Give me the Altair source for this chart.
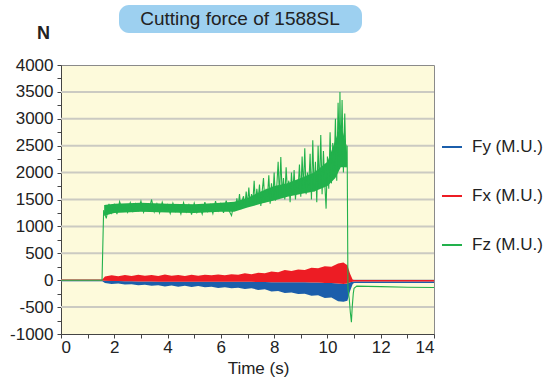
import altair as alt
import pandas as pd

# ---- data ----
series_names = ["Fy (M.U.)", "Fx (M.U.)", "Fz (M.U.)"]
series_colors = ["#1b5eab", "#ed1c24", "#22b14c"]

fx_t = [0, 1.55, 1.65, 1.9, 2.15, 2.4, 2.65, 2.9, 3.15, 3.4, 3.65, 3.9, 4.15, 4.4, 4.65, 4.9, 5.15,
        5.4, 5.65, 5.9, 6.15, 6.4, 6.65, 6.9, 7.15, 7.4, 7.65, 7.9, 8.15, 8.4, 8.65, 8.9, 9.15,
        9.4, 9.65, 9.9, 10.15, 10.4, 10.6, 10.75, 10.85, 10.95, 11.0, 12, 13, 14]
fx_hi = [15, 15, 70, 90, 75, 95, 80, 100, 85, 95, 80, 105, 85, 95, 80, 100, 85,
         100, 90, 105, 90, 110, 100, 130, 110, 140, 130, 160, 150, 190, 170, 200, 190,
         230, 220, 260, 250, 310, 330, 280, 120, 10, 5, 5, 5, 5]
fx_lo = [-5, -5, -10, -15, -15, -20, -20, -25, -25, -25, -30, -30, -30, -30, -30, -30, -30,
         -30, -30, -30, -30, -30, -30, -30, -30, -35, -35, -40, -40, -40, -40, -40, -40,
         -45, -45, -50, -50, -60, -70, -60, -40, -30, -25, -25, -25, -25]
fy_lo = [-20, -20, -50, -70, -60, -80, -75, -95, -85, -105, -95, -115, -100, -120, -105, -125, -110,
         -130, -120, -145, -130, -150, -140, -165, -150, -180, -170, -210, -200, -240, -230, -255, -250,
         -290, -280, -330, -320, -390, -400, -380, -200, -70, -50, -50, -50, -50]

fz_core_t = [1.62, 2.0, 3.0, 4.0, 5.0, 6.0, 6.5, 7.0, 7.5, 8.0, 8.5, 9.0, 9.5, 10.0, 10.3, 10.5, 10.72]
fz_core_lo = [1200, 1250, 1270, 1260, 1250, 1270, 1270, 1350, 1420, 1480, 1550, 1600, 1650, 1750, 1900, 2100, 2100]
fz_core_hi = [1400, 1420, 1440, 1420, 1410, 1440, 1460, 1530, 1650, 1750, 1800, 1900, 2000, 2200, 2600, 2900, 2500]

fz_t = [0, 1.54,
        1.6, 1.7, 1.8, 1.9, 2.0, 2.1, 2.2, 2.3, 2.4, 2.5, 2.6, 2.7, 2.8, 2.9, 3.0, 3.1, 3.2, 3.3,
        3.4, 3.5, 3.6, 3.7, 3.8, 3.9, 4.0, 4.1, 4.2, 4.3, 4.4, 4.5, 4.6, 4.7, 4.8, 4.9, 5.0, 5.1,
        5.2, 5.3, 5.4, 5.5, 5.6, 5.7, 5.8, 5.9, 6.0, 6.1, 6.2, 6.3, 6.4,
        6.5, 6.55, 6.6, 6.65, 6.7, 6.75, 6.8, 6.85, 6.9, 6.95, 7.0, 7.05, 7.1, 7.15, 7.2, 7.25,
        7.3, 7.35, 7.4, 7.45, 7.5, 7.55, 7.6, 7.65, 7.7, 7.75, 7.8, 7.85, 7.9, 7.95, 8.0, 8.05,
        8.1, 8.15, 8.2, 8.25, 8.3, 8.35, 8.4, 8.45, 8.5, 8.55, 8.6, 8.65, 8.7, 8.75, 8.8, 8.85,
        8.9, 8.95, 9.0, 9.05, 9.1, 9.15, 9.2, 9.25, 9.3, 9.35, 9.4, 9.45, 9.5, 9.55, 9.6, 9.65,
        9.7, 9.75, 9.8, 9.85, 9.9, 9.95, 10.0, 10.05, 10.1, 10.15, 10.2, 10.25, 10.3, 10.35,
        10.4, 10.45, 10.47, 10.5, 10.55, 10.6, 10.65, 10.7, 10.74,
        10.77, 10.82, 10.86, 10.9, 10.93, 10.97, 11.0, 11.1, 11.5, 12, 13, 14]
fz_v = [0, 0,
        1300, 1150, 1420, 1250, 1400, 1230, 1460, 1300, 1380, 1260, 1440, 1280, 1420, 1300, 1470,
        1260, 1400, 1300, 1500, 1270, 1420, 1250, 1450, 1290, 1400, 1240, 1430, 1280, 1380, 1230,
        1440, 1270, 1400, 1220, 1430, 1260, 1390, 1230, 1450, 1280, 1400, 1240, 1470, 1290, 1420,
        1250, 1480, 1300, 1200,
        1450, 1300, 1520, 1380, 1600, 1320, 1480, 1560, 1350, 1650, 1400, 1720, 1380, 1600, 1450,
        1850, 1400, 1700, 1500, 1780, 1380, 1650, 1900, 1450, 1700, 1550, 1950, 1420, 1800, 1500,
        2000, 1480, 1750, 2200, 1550, 2290, 1600, 1900, 1500, 2100, 1650, 1850, 1450, 2000, 1600,
        2050, 1500, 1850, 1700, 2150, 1550, 2300, 1700, 2450, 1600, 2000, 1750, 2350, 1500, 2600,
        1650, 2200, 1450, 2500, 1700, 2700, 1600, 2400, 1800, 1330, 2300, 1700, 2750, 1800, 2550,
        2000, 3000, 1850, 3300, 2300, 3500, 2200, 3350, 2000, 3100, 2100, 2500,
        -150, -350, -600, -780, -500, -250, -150, -110, -115, -120, -130, -135]

grid_values = [-500, 0, 500, 1000, 1500, 2000, 2500, 3000, 3500]
x_tick_values = [0, 1, 2, 3, 4, 5, 6, 7, 8, 9, 10, 11, 12, 13, 14]
y_tick_values = list(range(-1000, 4001, 250))

# ---- tables ----
fx_df = pd.DataFrame({"t": fx_t, "lo": fx_lo, "hi": fx_hi})
fy_df = pd.DataFrame({"t": fx_t, "lo": fy_lo, "hi": fx_lo})
fz_core_df = pd.DataFrame({"t": fz_core_t, "lo": fz_core_lo, "hi": fz_core_hi})
fz_df = pd.DataFrame({"t": fz_t, "v": fz_v, "series": series_names[2]})
grid_df = pd.DataFrame({"g": grid_values})

FONT = "Liberation Sans"
FS = 17
xs = alt.Scale(domain=[0, 14], nice=False, zero=False)
ys = alt.Scale(domain=[-1000, 4000], nice=False, zero=False)

x_axis = alt.Axis(values=x_tick_values,
                  labelExpr="datum.value % 2 == 0 ? '' + datum.value : ''",
                  labelOverlap=False,
                  title="Time (s)", titleX=197, titleY=34, titleBaseline="middle",
                  titleFont=FONT, titleFontSize=FS, titleFontWeight="normal", titleColor="#222",
                  labelFont=FONT, labelFontSize=FS, labelColor="#222", labelPadding=1,
                  tickSize=4, tickColor="#444", domainColor="#444", grid=False)
y_axis = alt.Axis(values=y_tick_values,
                  labelExpr="datum.value % 500 == 0 ? '' + datum.value : ''",
                  labelOverlap=False,
                  title="N", titleAngle=0, titleX=-18, titleY=-32, titleAlign="center",
                  titleBaseline="middle", titleFont=FONT, titleFontSize=18, titleFontWeight="bold",
                  titleColor="#222",
                  labelFont=FONT, labelFontSize=FS, labelColor="#222", labelPadding=4,
                  tickSize=4, tickColor="#444", domainColor="#444", grid=False)

def X(field):
    return alt.X(field, scale=xs, axis=x_axis)

def Y(field):
    return alt.Y(field, scale=ys, axis=y_axis)

grid = alt.Chart(grid_df).mark_rule(color="#cbcac2", strokeWidth=2).encode(
    y=Y("g:Q")
)

fy_band = alt.Chart(fy_df).mark_area(color=series_colors[0], opacity=1).encode(
    x=X("t:Q"), y=Y("lo:Q"), y2="hi:Q"
)
fx_band = alt.Chart(fx_df).mark_area(color=series_colors[1], opacity=1).encode(
    x=X("t:Q"), y=Y("lo:Q"), y2="hi:Q"
)
fz_band = alt.Chart(fz_core_df).mark_area(color=series_colors[2], opacity=1).encode(
    x=X("t:Q"), y=Y("lo:Q"), y2="hi:Q"
)
fz_line = alt.Chart(fz_df).mark_line(strokeWidth=1.1).encode(
    x=X("t:Q"),
    y=Y("v:Q"),
    color=alt.Color("series:N",
                    scale=alt.Scale(domain=series_names, range=series_colors),
                    legend=alt.Legend(title=None, orient="none", legendX=380, legendY=71,
                                      symbolType="stroke", symbolSize=400,
                                      symbolStrokeWidth=2, labelFont=FONT,
                                      labelFontSize=FS, labelColor="#222",
                                      rowPadding=30, labelOffset=9)),
    order="t:Q",
)

title_box = alt.Chart(pd.DataFrame({"k": [0]})).mark_rect(
    color="#9dd0f0", cornerRadius=10, clip=False
).encode(x=alt.value(58), x2=alt.value(301), y=alt.value(-60), y2=alt.value(-32))
title_text = alt.Chart(pd.DataFrame({"k": [0]})).mark_text(
    text="Cutting force of 1588SL", font=FONT, fontSize=19, color="#222",
    align="center", baseline="middle", clip=False
).encode(x=alt.value(179), y=alt.value(-46))

chart = alt.layer(grid, fy_band, fx_band, fz_band, fz_line, title_box, title_text).properties(
    width=373, height=269,
    padding={"left": 61, "top": 65, "right": 110, "bottom": 47},
    autosize=alt.AutoSizeParams(type="none"),
    background="white",
).configure_view(
    fill="#fdfadb", stroke="#8a8a8a", strokeWidth=1
)

chart.save("out.html", embed_options={"renderer": "svg", "actions": False})
